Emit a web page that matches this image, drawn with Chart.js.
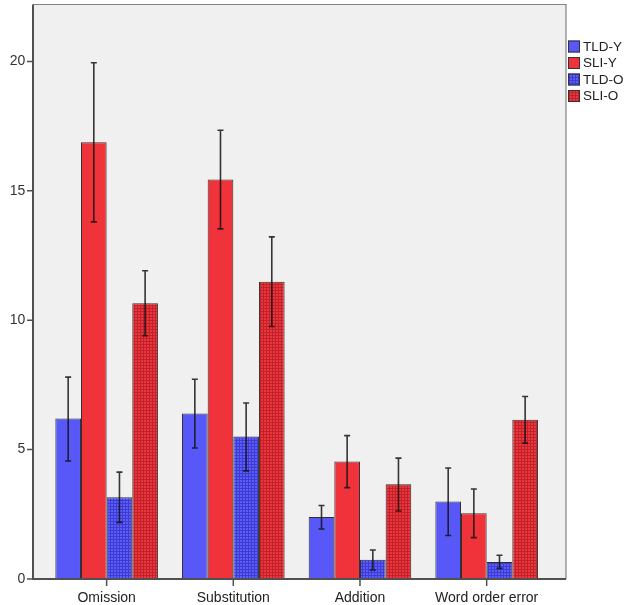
<!DOCTYPE html>
<html>
<head>
<meta charset="utf-8">
<script src="https://cdn.jsdelivr.net/npm/chart.js@4/dist/chart.umd.min.js"></script>
<style>
	html, body { margin: 0; padding: 0; background: #fff; }
	canvas { display: block; }
</style>
</head>
<body>
<canvas id="errorChart" width="630" height="605"></canvas>
<script>
const categories = ['Omission', 'Substitution', 'Addition', 'Word order error'];
const seriesNames = ['TLD-Y', 'SLI-Y', 'TLD-O', 'SLI-O'];

// means and error bar ends
const tldYMean = [6.20, 6.40, 2.40, 2.99];
const tldYLow = [4.56, 5.06, 1.93, 1.68];
const tldYHigh = [7.80, 7.72, 2.84, 4.29];

const sliYMean = [16.88, 15.44, 4.54, 2.54];
const sliYLow = [13.80, 13.53, 3.53, 1.60];
const sliYHigh = [19.95, 17.34, 5.54, 3.48];

const tldOMean = [3.16, 5.51, 0.74, 0.66];
const tldOLow = [2.19, 4.18, 0.35, 0.41];
const tldOHigh = [4.13, 6.80, 1.12, 0.92];

const sliOMean = [10.66, 11.49, 3.66, 6.15];
const sliOLow = [9.40, 9.76, 2.63, 5.25];
const sliOHigh = [11.91, 13.22, 4.67, 7.05];

const yTicks = [0, 5, 10, 15, 20];

const blue = '#5858f8';
const red = '#f0323a';
const fontFamily = '"Liberation Sans", Arial, sans-serif';

// small dotted fill like the SPSS hatch
const makePattern = (base, dark) => {
	const c = document.createElement('canvas');
	c.width = 3; c.height = 3;
	const g = c.getContext('2d');
	g.fillStyle = dark;
	g.fillRect(0, 0, 3, 3);
	g.fillStyle = base;
	g.fillRect(0, 0, 2, 2);
	return document.getElementById('errorChart').getContext('2d').createPattern(c, 'repeat');
};

const bluePattern = makePattern('#5c5cfa', '#3c3cd0');
const redPattern = makePattern('#ee343c', '#c0222a');

const fills = [blue, red, bluePattern, redPattern];
const means = [tldYMean, sliYMean, tldOMean, sliOMean];
const lows = [tldYLow, sliYLow, tldOLow, sliOLow];
const highs = [tldYHigh, sliYHigh, tldOHigh, sliOHigh];

const frame = { left: 33, right: 566, top: 4.5, bottom: 579 };

const spssFrame = {
	id: 'spssFrame',
	beforeDatasetsDraw(chart) {
		const ctx = chart.ctx;
		ctx.save();
		ctx.fillStyle = '#f0f0f0';
		ctx.fillRect(frame.left, frame.top, frame.right - frame.left, frame.bottom - frame.top);
		ctx.restore();
	},
	afterDatasetsDraw(chart) {
		const ctx = chart.ctx;
		const y = chart.scales.y;
		const x = chart.scales.x;
		ctx.save();
		// error bars
		ctx.strokeStyle = 'rgba(20,20,20,0.85)';
		ctx.lineWidth = 1.6;
		means.forEach((_, di) => {
			const meta = chart.getDatasetMeta(di);
			meta.data.forEach((bar, i) => {
				const top = y.getPixelForValue(highs[di][i]);
				const bot = y.getPixelForValue(lows[di][i]);
				ctx.beginPath();
				ctx.moveTo(bar.x, top); ctx.lineTo(bar.x, bot);
				ctx.moveTo(bar.x - 3, top); ctx.lineTo(bar.x + 3, top);
				ctx.moveTo(bar.x - 3, bot); ctx.lineTo(bar.x + 3, bot);
				ctx.stroke();
			});
		});
		// top and right border
		ctx.strokeStyle = '#808080';
		ctx.lineWidth = 1.2;
		ctx.beginPath();
		ctx.moveTo(frame.left, frame.top); ctx.lineTo(frame.right, frame.top);
		ctx.lineTo(frame.right, frame.bottom);
		ctx.stroke();
		// axes
		ctx.strokeStyle = '#505050';
		ctx.lineWidth = 2;
		ctx.beginPath();
		ctx.moveTo(frame.left, frame.top); ctx.lineTo(frame.left, frame.bottom);
		ctx.lineTo(frame.right, frame.bottom);
		ctx.stroke();
		ctx.lineWidth = 1.5;
		ctx.beginPath();
		yTicks.forEach(v => {
			const p = y.getPixelForValue(v);
			ctx.moveTo(frame.left - 6, p); ctx.lineTo(frame.left, p);
		});
		categories.forEach((_, i) => {
			const p = x.getPixelForValue(i);
			ctx.moveTo(p, frame.bottom); ctx.lineTo(p, frame.bottom + 7);
		});
		ctx.stroke();
		ctx.restore();
	},
	afterDraw(chart) {
		const ctx = chart.ctx;
		ctx.save();
		ctx.font = `13.5px ${fontFamily}`;
		ctx.textBaseline = 'middle';
		seriesNames.forEach((name, i) => {
			const cy = 46.5 + i * 16.5;
			ctx.fillStyle = fills[i];
			ctx.fillRect(568, cy - 6, 12, 12);
			ctx.strokeStyle = '#333';
			ctx.lineWidth = 1;
			ctx.strokeRect(568.5, cy - 5.5, 11, 11);
			ctx.fillStyle = '#222';
			ctx.fillText(name, 583, cy + 0.5);
		});
		ctx.restore();
	},
};

const datasets = seriesNames.map((name, i) => ({
	label: name,
	data: means[i],
	backgroundColor: fills[i],
	borderColor: '#303030',
	borderWidth: 1,
	categoryPercentage: 0.81,
	barPercentage: 1,
}));

new Chart(document.getElementById('errorChart'), {
	type: 'bar',
	data: { labels: categories, datasets },
	options: {
		responsive: false,
		devicePixelRatio: 1,
		animation: false,
		layout: { padding: { top: 4.5, right: 80, left: 0, bottom: 0 } },
		plugins: {
			legend: { display: false },
			tooltip: { enabled: false },
		},
		scales: {
			x: {
				grid: { display: false },
				border: { display: false },
				ticks: { color: '#222', font: { family: fontFamily, size: 14 }, padding: 3, maxRotation: 0 },
				afterFit: (s) => { s.height = 26; s.paddingLeft = 0; s.paddingRight = 0; },
			},
			y: {
				min: 0,
				max: 22.2,
				grid: { display: false },
				border: { display: false },
				ticks: { stepSize: 5, color: '#333', font: { family: fontFamily, size: 14 }, padding: 10 },
				afterBuildTicks: (s) => { s.ticks = s.ticks.filter(t => yTicks.includes(t.value)); },
				afterFit: (s) => { s.width = 43.3; s.paddingTop = 0; s.paddingBottom = 0; },
			},
		},
	},
	plugins: [spssFrame],
});
</script>
</body>
</html>
